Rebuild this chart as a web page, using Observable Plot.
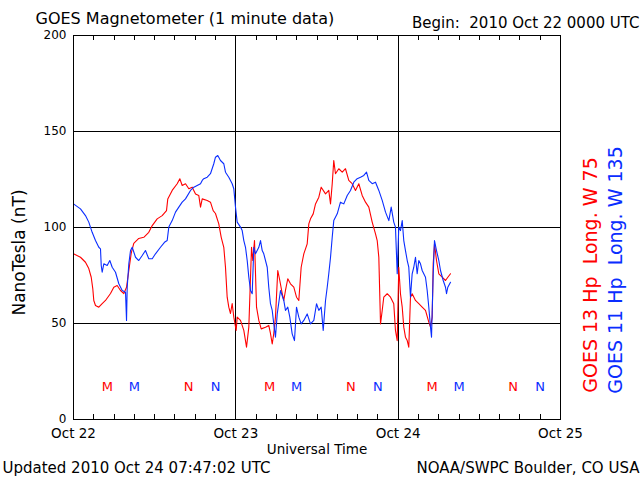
<!DOCTYPE html>
<html>
<head>
<meta charset="utf-8">
<script src="https://cdn.jsdelivr.net/npm/d3@7"></script>
<script src="https://cdn.jsdelivr.net/npm/@observablehq/plot@0.6"></script>
<style>
  html, body { margin: 0; padding: 0; background: #fff; }
</style>
</head>
<body>
<div id="chart"></div>
<script>
// ---- Data (hours after 2010 Oct 22 00:00 UTC, nT) ----
const g13Hours = [0,1.03,1.77,2.26,2.62,2.85,3.0,3.25,3.74,4.24,
  4.73,5.47,5.96,6.46,6.95,7.44,7.84,8.18,8.53,8.91,
  9.65,10.39,11.13,11.64,12.37,13.11,13.75,13.94,14.59,15.33,
  15.72,16.07,16.56,17.05,17.55,18.04,18.52,18.78,19.03,19.77,
  20.25,20.65,20.99,21.48,21.84,22.22,22.47,22.72,22.96,23.21,
  23.46,23.70,24.05,24.20,24.69,25.18,25.58,25.92,26.17,26.32,
  26.51,26.76,27.06,27.40,27.75,28.39,28.87,29.12,29.38,29.61,
  29.86,30.20,30.50,30.86,31.09,31.34,31.68,32.08,32.57,32.97,
  33.31,33.66,34.05,34.55,34.79,35.04,35.44,35.78,36.27,36.62,
  37.26,37.74,38.0,38.25,38.48,38.73,39.22,39.73,40.21,40.70,
  41.20,41.69,42.18,42.68,43.17,43.66,44.16,44.65,44.90,45.14,
  45.39,45.64,45.87,46.38,46.87,47.35,47.60,47.86,48.09,48.34,
  48.60,48.83,49.08,49.34,49.57,49.82,50.07,50.56,51.05,51.55,
  52.04,52.53,52.78,53.03,53.18,53.37,53.67,54.01,54.51,55.0,
  55.34,55.74];
const g13Hp = [86.3,84.5,81.9,78.6,74.1,68.2,62.0,59.4,58.5,60.4,
  62.0,65.6,68.9,69.8,67.2,65.6,68.9,77.6,86.5,91.7,
  94.3,94.9,97.5,101.0,104.5,106.2,108.8,114.9,119.3,122.8,
  125.4,121.9,122.8,120.2,121.0,117.5,116.7,110.6,114.9,114.1,
  113.2,108.8,107.3,101.9,94.9,89.7,79.3,63.7,58.5,55.2,
  60.4,53.3,46.4,53.3,51.6,46.4,37.7,48.1,74.1,89.7,
  82.8,93.2,58.5,51.6,47.2,48.1,49.0,44.8,39.4,44.8,
  53.3,77.6,72.4,65.6,62.0,67.2,73.3,70.7,68.9,63.7,
  62.0,79.3,86.3,91.5,101.9,104.5,107.1,112.3,115.8,121.0,
  117.5,119.3,112.3,122.8,134.9,128.0,130.6,128.8,130.6,124.5,
  122.8,119.3,122.8,116.7,113.2,110.6,102.8,96.7,93.2,84.5,
  49.8,56.8,63.7,65.5,63.7,60.3,46.4,41.1,79.3,65.5,
  58.5,48.1,42.9,41.1,37.7,63.7,65.5,62.0,60.3,58.5,
  56.8,50.7,48.1,53.3,81.1,91.5,82.8,75.9,74.1,72.4,
  74.1,75.9];

const g11Hours = [0,1.03,1.77,2.26,2.76,3.25,3.74,3.99,4.10,4.24,
  4.48,4.98,5.37,5.72,6.21,6.70,7.20,7.69,7.84,7.94,
  8.18,8.43,8.68,9.17,9.65,10.16,10.64,11.13,11.64,12.12,
  12.86,13.45,13.85,14.09,14.59,15.08,15.57,16.07,16.56,17.30,
  17.79,18.29,18.78,19.03,19.26,19.77,20.25,20.74,20.99,21.33,
  21.73,22.22,22.47,22.96,23.46,23.70,23.95,24.20,24.69,24.94,
  25.18,25.43,25.68,25.92,26.17,26.42,26.66,26.91,27.40,27.65,
  27.90,28.13,28.64,28.87,29.12,29.38,29.61,29.86,30.12,30.60,
  31.09,31.34,31.68,31.98,32.33,32.67,32.97,33.31,33.66,34.05,
  34.55,35.04,35.53,35.93,36.27,36.62,36.92,37.26,37.51,37.74,
  38.0,38.25,38.48,38.99,39.47,39.96,40.47,40.95,41.44,41.94,
  42.43,42.92,43.32,43.66,44.16,44.65,45.14,45.64,46.13,46.62,
  46.97,47.35,47.60,47.86,48.09,48.34,48.60,48.83,49.08,49.34,
  49.57,49.82,50.07,50.31,50.56,50.81,51.05,51.30,51.55,52.04,
  52.29,52.53,52.78,52.93,53.18,53.37,53.67,54.01,54.26,54.66,
  55.0,55.15,55.34,55.74];
const g11Hp = [112.3,109.7,106.2,102.8,97.5,93.2,89.7,88.9,80.2,76.7,
  81.1,80.2,82.8,79.3,76.7,70.7,67.2,66.3,51.6,68.9,
  81.1,88.0,89.7,84.5,82.8,85.4,88.0,83.7,83.7,86.3,
  89.7,92.3,93.2,100.2,103.6,108.0,110.6,113.2,114.9,119.3,
  121.0,121.9,122.8,124.5,125.4,126.2,128.0,133.2,136.6,137.5,
  134.9,133.2,128.8,126.2,122.8,120.2,110.6,102.8,100.2,98.4,
  93.2,89.7,82.8,74.1,67.2,65.5,89.7,86.3,89.7,93.2,
  88.0,86.3,79.3,68.9,60.3,56.8,49.8,42.9,55.0,67.2,
  62.0,56.8,58.5,53.3,44.6,41.1,58.5,53.3,49.8,51.6,
  55.0,49.8,51.6,60.3,56.8,58.5,46.4,62.0,68.9,75.9,
  84.5,94.9,103.6,107.1,113.2,112.3,116.7,119.3,123.6,125.4,
  126.2,127.1,128.8,124.5,122.8,123.6,119.3,114.1,108.0,103.6,
  110.6,102.8,100.2,75.9,100.2,98.4,103.6,93.2,88.0,82.8,
  79.3,63.7,75.9,79.3,84.5,75.9,82.8,81.1,77.6,74.1,
  67.2,58.5,48.1,42.9,75.9,93.2,88.0,82.8,77.6,72.4,
  68.9,65.5,68.9,71.5];

// Local midnight (M) / noon (N) markers, hours
const g13Midnight = [5, 29, 53];
const g13Noon = [17, 41, 65];
const g11Midnight = [9, 33, 57];
const g11Noon = [21, 45, 69];
const markerLevel = 17;

const dayTicks = [0, 24, 48, 72];
const dayLabels = ["Oct 22", "Oct 23", "Oct 24", "Oct 25"];
const minorTicks = d3.range(3, 72, 3);
const yTicks = [0, 50, 100, 150, 200];
const gridY = [50, 100, 150];
const gridX = [24, 48];

const titleText = "GOES Magnetometer (1 minute data)";
const beginText = "Begin:\u00a0\u00a02010 Oct 22 0000 UTC";
const xTitle = "Universal Time";
const yTitle = "NanoTesla (nT)";
const updatedText = "Updated 2010 Oct 24 07:47:02 UTC";
const sourceText = "NOAA/SWPC Boulder, CO USA";
const g13Label = "GOES 13 Hp\u00a0\u00a0Long. W 75";
const g11Label = "GOES 11 Hp\u00a0\u00a0Long. W 135";

const RED = "#ff0000";
const BLUE = "#0a2dff";

const g13 = g13Hours.map((h, i) => ({h, v: g13Hp[i]}));
const g11 = g11Hours.map((h, i) => ({h, v: g11Hp[i]}));

const font = "DejaVu Sans";

const chart = Plot.plot({
  width: 640,
  height: 480,
  marginLeft: 73,
  marginRight: 80,
  marginTop: 35,
  marginBottom: 61,
  style: {fontFamily: font, background: "#fff", color: "#000", overflow: "visible"},
  x: {domain: [0, 72], label: null},
  y: {domain: [0, 200], label: null},
  marks: [
    Plot.ruleY(gridY, {stroke: "#000", strokeWidth: 1.2, shapeRendering: "crispEdges"}),
    Plot.ruleX(gridX, {stroke: "#000", strokeWidth: 1.2, shapeRendering: "crispEdges"}),
    Plot.tickX(minorTicks, {x: d => d, insetTop: 379, stroke: "#000", shapeRendering: "crispEdges"}),
    Plot.tickX(minorTicks, {x: d => d, insetBottom: 379, stroke: "#000", shapeRendering: "crispEdges"}),
    Plot.line(g13, {x: "h", y: "v", stroke: RED, strokeWidth: 1.1}),
    Plot.line(g11, {x: "h", y: "v", stroke: BLUE, strokeWidth: 1.1}),
    Plot.frame({stroke: "#000", strokeWidth: 1.2, shapeRendering: "crispEdges"}),
    Plot.axisY({ticks: yTicks, tickSize: 0, tickPadding: 7, fontSize: 12, label: null}),
    Plot.axisX({ticks: dayTicks, tickFormat: (d) => dayLabels[dayTicks.indexOf(d)], tickSize: 0, tickPadding: 9, fontSize: 13.5, label: null}),
    Plot.text(g13Midnight, {x: d => d, y: () => markerLevel, text: () => "M", fill: RED, fontSize: 13}),
    Plot.text(g13Noon, {x: d => d, y: () => markerLevel, text: () => "N", fill: RED, fontSize: 13}),
    Plot.text(g11Midnight, {x: d => d, y: () => markerLevel, text: () => "M", fill: BLUE, fontSize: 13}),
    Plot.text(g11Noon, {x: d => d, y: () => markerLevel, text: () => "N", fill: BLUE, fontSize: 13}),
    Plot.text([titleText], {frameAnchor: "top-left", textAnchor: "start", lineAnchor: "middle", dx: -38, dy: -17, fontSize: 16, fill: "#000"}),
    Plot.text([beginText], {frameAnchor: "top-right", textAnchor: "end", lineAnchor: "middle", dx: 79, dy: -12, fontSize: 15, fill: "#000"}),
    Plot.text([xTitle], {frameAnchor: "bottom", lineAnchor: "middle", dy: 30, fontSize: 13.5, fill: "#000"}),
    Plot.text([updatedText], {frameAnchor: "bottom-left", textAnchor: "start", lineAnchor: "middle", dx: -71, dy: 49, fontSize: 15, fill: "#000"}),
    Plot.text([sourceText], {frameAnchor: "bottom-right", textAnchor: "end", lineAnchor: "middle", dx: 79, dy: 49, fontSize: 15, fill: "#000"}),
    Plot.text([yTitle], {frameAnchor: "left", textAnchor: "middle", lineAnchor: "middle", rotate: -90, dx: -53.5, dy: 25, fontSize: 17, fill: "#000"}),
    Plot.text([g13Label], {frameAnchor: "right", textAnchor: "middle", lineAnchor: "middle", rotate: -90, dx: 30, dy: 47.5, fontSize: 19, fill: RED}),
    Plot.text([g11Label], {frameAnchor: "right", textAnchor: "middle", lineAnchor: "middle", rotate: -90, dx: 55, dy: 42.5, fontSize: 19, fill: BLUE})
  ]
});
document.getElementById("chart").appendChild(chart);
</script>
</body>
</html>
